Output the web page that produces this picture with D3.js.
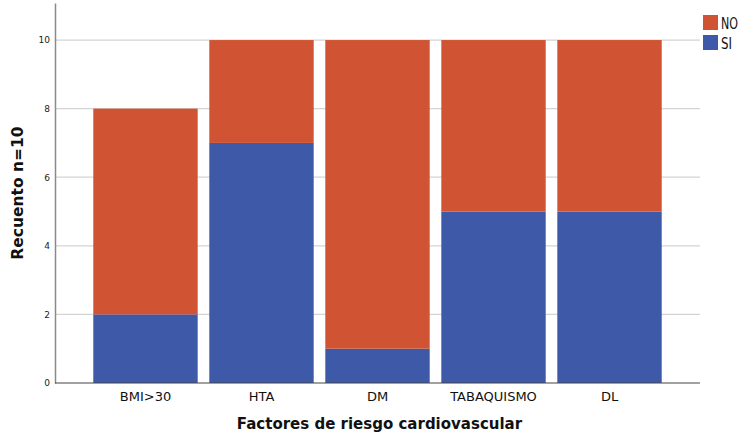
<!DOCTYPE html>
<html>
<head>
<meta charset="utf-8">
<script src="https://cdn.jsdelivr.net/npm/d3@7"></script>
<style>
  body { margin: 0; background: #fff; }
  text { font-family: "DejaVu Sans", sans-serif; }
</style>
</head>
<body>
<div id="chart"></div>
<script>
const categories = ["BMI>30", "HTA", "DM", "TABAQUISMO", "DL"];
const siValues = [2, 7, 1, 5, 5];
const noValues = [6, 3, 9, 5, 5];
const seriesNames = ["SI", "NO"];
const yTicks = [0, 2, 4, 6, 8, 10];

const colors = { SI: "#3f59a9", NO: "#d05434" };

const width = 750, height = 442;
const plotLeft = 55, plotRight = 700, plotTop = 3, plotBottom = 383;

const svg = d3.select("#chart").append("svg")
    .attr("width", width)
    .attr("height", height);

const x = d3.scaleBand()
    .domain(categories)
    .range([plotLeft, plotRight])
    .paddingInner(0.1)
    .paddingOuter(0.33);

const y = d3.scaleLinear()
    .domain([0, 11.08])
    .range([plotBottom, plotTop]);

// gridlines
svg.append("g")
    .selectAll("line")
    .data(yTicks.filter(d => d > 0))
    .enter().append("line")
    .attr("x1", plotLeft)
    .attr("x2", plotRight)
    .attr("y1", d => y(d))
    .attr("y2", d => y(d))
    .attr("stroke", "#d4d4d4")
    .attr("stroke-width", 1.2);

// stacked bars
const rows = categories.map((c, i) => ({ cat: c, SI: siValues[i], NO: noValues[i] }));
const stacked = d3.stack().keys(seriesNames)(rows);

svg.append("g")
    .selectAll("g")
    .data(stacked)
    .enter().append("g")
    .attr("fill", d => colors[d.key])
    .selectAll("rect")
    .data(d => d)
    .enter().append("rect")
    .attr("x", d => x(d.data.cat))
    .attr("width", x.bandwidth())
    .attr("y", d => y(d[1]))
    .attr("height", d => y(d[0]) - y(d[1]));

// y axis
const yAxis = svg.append("g")
    .attr("transform", `translate(${plotLeft},0)`)
    .call(d3.axisLeft(y).tickValues(yTicks).tickSize(0).tickPadding(5));
yAxis.select(".domain").attr("stroke", "#8a8a8a").attr("stroke-width", 1.5);
yAxis.selectAll("text").attr("font-size", 9).attr("fill", "#222")
    .style("font-family", "'DejaVu Sans', sans-serif");

// x axis
const xAxis = svg.append("g")
    .attr("transform", `translate(0,${plotBottom})`)
    .call(d3.axisBottom(x).tickSize(0).tickPadding(9));
xAxis.select(".domain").attr("stroke", "#444").attr("stroke-width", 1.2)
    .attr("d", `M${plotLeft},0H${plotRight}`);
xAxis.selectAll("text").attr("font-size", 13).attr("fill", "#111")
    .style("font-family", "'DejaVu Sans', sans-serif");

// titles
svg.append("text")
    .attr("x", (plotLeft + plotRight) / 2 + 2)
    .attr("y", 429)
    .attr("text-anchor", "middle")
    .attr("font-size", 15)
    .attr("font-weight", "bold")
    .attr("fill", "#111")
    .text("Factores de riesgo cardiovascular");

svg.append("text")
    .attr("transform", `translate(23,${(plotTop + plotBottom) / 2}) rotate(-90)`)
    .attr("text-anchor", "middle")
    .attr("font-size", 15.5)
    .attr("font-weight", "bold")
    .attr("fill", "#111")
    .text("Recuento n=10");

// legend
const legend = svg.append("g").attr("transform", "translate(703,15)");
["NO", "SI"].forEach((k, i) => {
    const g = legend.append("g").attr("transform", `translate(0,${i * 20})`);
    g.append("rect").attr("width", 15).attr("height", 15).attr("fill", colors[k]);
    g.append("text").attr("x", 18).attr("y", 14).attr("font-size", 15)
        .attr("textLength", k === "NO" ? 17 : 11).attr("lengthAdjust", "spacingAndGlyphs")
        .attr("fill", "#111").text(k);
});
</script>
</body>
</html>
